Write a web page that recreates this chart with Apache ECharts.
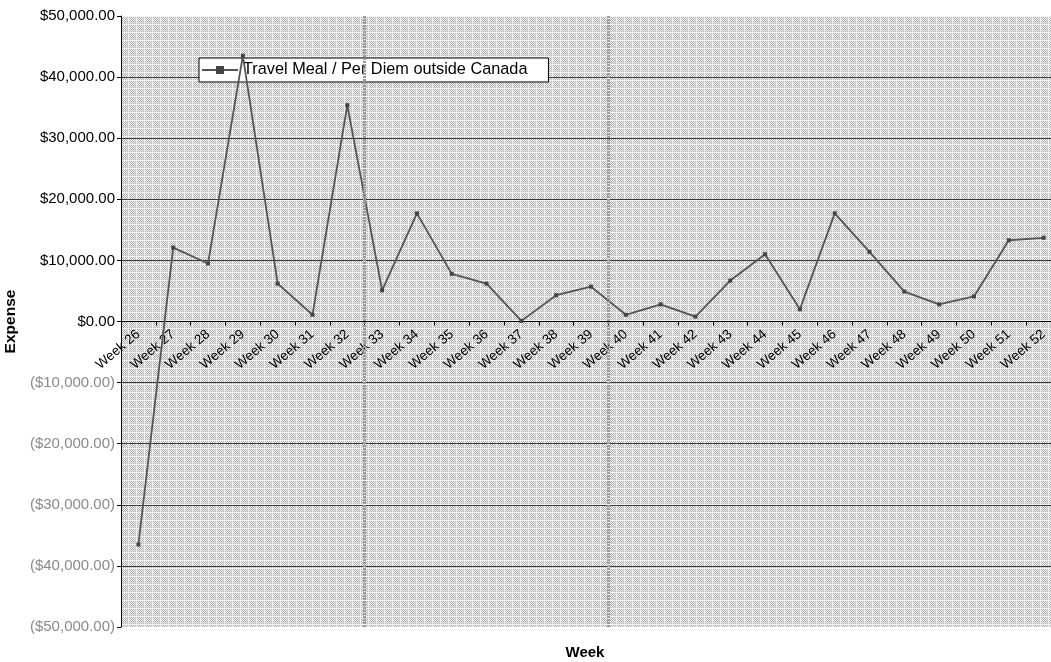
<!DOCTYPE html>
<html>
<head>
<meta charset="utf-8">
<script src="https://cdn.jsdelivr.net/npm/echarts@6/dist/echarts.min.js"></script>
<style>
  html, body { margin: 0; padding: 0; background: #fff; }
  #chart { width: 1051px; height: 662px; }
</style>
</head>
<body>
<div id="chart"></div>
<script>
// Weekly categories
const weeks = [
  'Week 26', 'Week 27', 'Week 28', 'Week 29', 'Week 30', 'Week 31', 'Week 32',
  'Week 33', 'Week 34', 'Week 35', 'Week 36', 'Week 37', 'Week 38', 'Week 39',
  'Week 40', 'Week 41', 'Week 42', 'Week 43', 'Week 44', 'Week 45', 'Week 46',
  'Week 47', 'Week 48', 'Week 49', 'Week 50', 'Week 51', 'Week 52'
];

// Travel Meal / Per Diem outside Canada, per week
const perDiemOutsideCanada = [
  -36500, 12100, 9500, 43500, 6200, 1100, 35400,
  5100, 17700, 7800, 6200, 100, 4300, 5700,
  1100, 2800, 800, 6700, 11000, 2000, 17700,
  11400, 4900, 2800, 4100, 13300, 13700
];

const seriesName = 'Travel Meal / Per Diem outside Canada';

// Expense axis range
const yMin = -50000;
const yMax = 50000;
const yStep = 10000;

// Weeks preceded by a period divider
const dividerWeeks = ['Week 33', 'Week 40'];

const FONT = "'Liberation Sans', Arial, sans-serif";

// Plot frame (px)
const PLOT_LEFT = 121;
const PLOT_TOP = 16;
const PLOT_BOTTOM = 35;
const PLOT_RIGHT = -10;
const CHART_H = 662;

// Fine grey/white dot fill for the plot area
function makeDotFill() {
  const size = 8;
  const c = document.createElement('canvas');
  c.width = size; c.height = size;
  const ctx = c.getContext('2d');
  for (let y = 0; y < size; y++) {
    for (let x = 0; x < size; x++) {
      let col;
      if ((x + y) % 2 === 0) col = '#b2b2b2';
      else col = '#eeeeee';
      if ((x === 0 || y === 0) && (x + y) % 2 === 0) col = '#f6f6f6';
      ctx.fillStyle = col;
      ctx.fillRect(x, y, 1, 1);
    }
  }
  return c;
}

function money(v) {
  const s = Math.abs(v).toLocaleString('en-US', { minimumFractionDigits: 2, maximumFractionDigits: 2 });
  return v < 0 ? '{neg|($' + s + ')}' : '{pos|$' + s + '}';
}

// The week axis sits on the zero line: a second grid covers only the
// positive half of the value range, so its bottom edge is the $0.00 line.
const plotH = CHART_H - PLOT_TOP - PLOT_BOTTOM;
const zeroFromTop = PLOT_TOP + plotH * (yMax / (yMax - yMin));

const chart = echarts.init(document.getElementById('chart'), null, { renderer: 'canvas' });

chart.setOption({
  animation: false,
  backgroundColor: '#ffffff',
  textStyle: { fontFamily: FONT },
  grid: [{
    left: PLOT_LEFT,
    right: PLOT_RIGHT,
    top: PLOT_TOP,
    bottom: PLOT_BOTTOM,
    containLabel: false,
    outerBoundsMode: 'none',
    show: true,
    borderWidth: 0,
    backgroundColor: { image: makeDotFill(), repeat: 'repeat' }
  }, {
    left: PLOT_LEFT,
    right: PLOT_RIGHT,
    top: PLOT_TOP,
    bottom: CHART_H - zeroFromTop,
    containLabel: false,
    outerBoundsMode: 'none',
    show: false
  }],
  legend: {
    left: 199,
    top: 58,
    z: 3,
    data: [seriesName],
    backgroundColor: '#ffffff',
    borderColor: '#000000',
    borderWidth: 1,
    borderRadius: 0,
    padding: [4, 21, 4, 2],
    itemWidth: 36,
    itemHeight: 10,
    itemGap: 4,
    textStyle: { fontFamily: FONT, fontSize: 16.3, color: '#000' }
  },
  xAxis: [{
    // main plot: carries the period dividers
    gridIndex: 0,
    type: 'category',
    data: weeks,
    boundaryGap: true,
    z: 5,
    axisLine: { show: false, onZero: false },
    axisTick: { show: false },
    axisLabel: { show: false },
    splitLine: {
      show: true,
      interval: function (index) { return dividerWeeks.indexOf(weeks[index]) >= 0; },
      lineStyle: { color: '#9a9a9a', width: 3, type: [2, 1] }
    }
  }, {
    // week axis drawn along the zero line
    gridIndex: 1,
    type: 'category',
    data: weeks,
    boundaryGap: true,
    position: 'bottom',
    name: 'Week',
    nameLocation: 'middle',
    nameGap: 324,
    nameTextStyle: { fontFamily: FONT, fontSize: 15, fontWeight: 'bold', color: '#000', padding: [0, 12, 0, 0] },
    axisLine: { show: true, onZero: false, lineStyle: { color: '#000', width: 1 } },
    axisTick: { show: true, length: 4, lineStyle: { color: '#000' } },
    axisLabel: {
      rotate: 40,
      interval: 0,
      margin: 11,
      fontFamily: FONT,
      fontSize: 13.5,
      color: '#000'
    },
    splitLine: { show: false }
  }],
  yAxis: [{
    gridIndex: 0,
    type: 'value',
    min: yMin,
    max: yMax,
    interval: yStep,
    name: 'Expense',
    nameLocation: 'middle',
    nameGap: 89,
    nameRotate: 90,
    nameTextStyle: { fontFamily: FONT, fontSize: 15.5, fontWeight: 'bold', color: '#000' },
    axisLine: { show: true, onZero: false, lineStyle: { color: '#000', width: 1 } },
    axisTick: { show: true, length: 4, lineStyle: { color: '#000' } },
    axisLabel: {
      margin: 6,
      formatter: money,
      rich: {
        pos: { fontFamily: FONT, fontSize: 15, color: '#000' },
        neg: { fontFamily: FONT, fontSize: 15, color: '#8a8a8a' }
      }
    },
    splitLine: {
      show: true,
      showMinLine: false,
      showMaxLine: false,
      lineStyle: { color: '#3a3a3a', width: 1 }
    }
  }, {
    gridIndex: 1,
    type: 'value',
    min: 0,
    max: yMax,
    show: false,
    axisLine: { show: false, onZero: false },
    splitLine: { show: false }
  }],
  series: [{
    name: seriesName,
    type: 'line',
    xAxisIndex: 0,
    yAxisIndex: 0,
    data: perDiemOutsideCanada,
    symbol: 'rect',
    symbolSize: 4,
    showAllSymbol: true,
    z: 4,
    lineStyle: { color: '#555555', width: 1.8 },
    itemStyle: { color: '#444444' }
  }]
});
</script>
</body>
</html>
